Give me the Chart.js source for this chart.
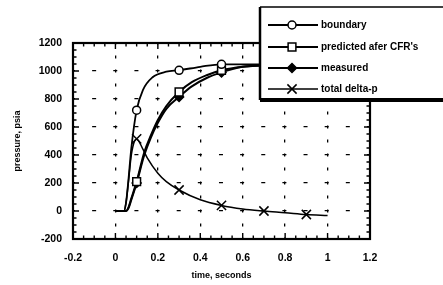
<!DOCTYPE html>
<html>
<head>
<meta charset="UTF-8">
<title>Pressure vs time</title>
<script src="https://cdn.jsdelivr.net/npm/chart.js@4.4.0/dist/chart.umd.min.js"></script>
<style>
  body { margin: 0; background: #fff; }
  canvas { display: block; }
</style>
</head>
<body>
<canvas id="chart" width="443" height="285"></canvas>
<script>
// axis ticks
var xTicks = [-0.2, 0, 0.2, 0.4, 0.6, 0.8, 1, 1.2];
var xTickLabels = ['-0.2', '0', '0.2', '0.4', '0.6', '0.8', '1', '1.2'];
var yTicks = [-200, 0, 200, 400, 600, 800, 1000, 1200];
var yTickLabels = ['-200', '0', '200', '400', '600', '800', '1000', '1200'];

// series
var boundaryTime = [0, 0.04, 0.05, 0.06, 0.075, 0.1, 0.13, 0.175, 0.24, 0.3, 0.4, 0.5, 0.6, 0.8, 1.0];
var boundaryP    = [0, 0, 60, 200, 450, 720, 865, 955, 995, 1005, 1030, 1048, 1048, 1048, 1048];
var boundaryMarks = [0.1, 0.3, 0.5];

var predictedTime = [0, 0.05, 0.06, 0.075, 0.1, 0.136, 0.167, 0.2, 0.24, 0.3, 0.36, 0.43, 0.5, 0.6, 0.7, 1.0];
var predictedP    = [0, 0, 20, 90, 210, 420, 540, 650, 750, 850, 920, 970, 1005, 1030, 1040, 1045];
var predictedMarks = [0.1, 0.3, 0.5];

var measuredTime = [0, 0.05, 0.06, 0.075, 0.1, 0.136, 0.167, 0.2, 0.24, 0.3, 0.36, 0.43, 0.5, 0.6, 0.7, 1.0];
var measuredP    = [0, 0, 15, 80, 200, 400, 525, 630, 730, 815, 890, 950, 990, 1030, 1040, 1045];
var measuredMarks = [0.1, 0.3, 0.5];

var deltaTime = [0, 0.04, 0.05, 0.06, 0.075, 0.09, 0.1, 0.13, 0.15, 0.2, 0.24, 0.3, 0.4, 0.5, 0.6, 0.7, 0.8, 0.9, 1.0];
var deltaP    = [0, 0, 60, 190, 400, 500, 515, 440, 380, 270, 210, 150, 80, 40, 15, 0, -12, -25, -33];
var deltaMarks = [0.1, 0.3, 0.5, 0.7, 0.9];

var seriesNames = ['boundary', "predicted afer CFR's", 'measured', 'total delta-p'];

function pts(t, p) {
  return t.map(function(x, i) { return {x: x, y: p[i]}; });
}
function markRadius(marks, r) {
  return function(ctx) {
    if (!ctx.raw) return 0;
    return marks.indexOf(ctx.raw.x) >= 0 ? r : 0;
  };
}

var styles = [
  {pointStyle: 'circle', radius: 4, fill: '#fff', width: 1.8},
  {pointStyle: 'rect', radius: 5.5, fill: '#fff', width: 2},
  {pointStyle: 'rectRot', radius: 4.5, fill: '#000', width: 2},
  {pointStyle: 'crossRot', radius: 6.5, fill: '#000', width: 1.5}
];
var seriesData = [pts(boundaryTime, boundaryP), pts(predictedTime, predictedP),
                  pts(measuredTime, measuredP), pts(deltaTime, deltaP)];
var seriesMarks = [boundaryMarks, predictedMarks, measuredMarks, deltaMarks];

var datasets = seriesNames.map(function(name, i) {
  var s = styles[i];
  return {
    label: name,
    data: seriesData[i],
    showLine: true,
    cubicInterpolationMode: 'monotone',
    borderColor: '#000',
    borderWidth: s.width,
    pointStyle: s.pointStyle,
    pointBackgroundColor: s.fill,
    pointBorderColor: '#000',
    pointBorderWidth: 1.5,
    pointRadius: markRadius(seriesMarks[i], s.radius)
  };
});

function drawMarker(ctx, style, r, x, y, fill) {
  ctx.beginPath();
  if (style === 'circle') {
    ctx.arc(x, y, r, 0, Math.PI * 2);
  } else if (style === 'rect') {
    var h = r * Math.SQRT1_2;
    ctx.rect(x - h, y - h, 2 * h, 2 * h);
  } else if (style === 'rectRot') {
    ctx.moveTo(x - r, y); ctx.lineTo(x, y - r); ctx.lineTo(x + r, y); ctx.lineTo(x, y + r);
    ctx.closePath();
  } else {
    var d = r * Math.SQRT1_2;
    ctx.moveTo(x - d, y - d); ctx.lineTo(x + d, y + d);
    ctx.moveTo(x + d, y - d); ctx.lineTo(x - d, y + d);
    ctx.stroke();
    return;
  }
  ctx.fillStyle = fill;
  ctx.fill();
  ctx.stroke();
}

// box round the plot with inward ticks on all four sides
var framePlugin = {
  id: 'frame',
  afterDatasetsDraw: function(chart) {
    var ctx = chart.ctx, a = chart.chartArea;
    var xs = chart.scales.x, ys = chart.scales.y;
    ctx.save();
    ctx.strokeStyle = '#000';
    ctx.lineWidth = 1.4;
    ctx.beginPath();
    var i, px, len;
    for (i = 0; i <= 28; i++) {
      px = xs.getPixelForValue(-0.2 + i * 0.05);
      len = i % 4 === 0 ? 6 : 3.5;
      ctx.moveTo(px, a.bottom); ctx.lineTo(px, a.bottom - len);
      ctx.moveTo(px, a.top); ctx.lineTo(px, a.top + len);
    }
    for (i = 0; i <= 28; i++) {
      px = ys.getPixelForValue(-200 + i * 50);
      len = i % 4 === 0 ? 6 : 3.5;
      ctx.moveTo(a.left, px); ctx.lineTo(a.left + len, px);
      ctx.moveTo(a.right, px); ctx.lineTo(a.right - len, px);
    }
    ctx.stroke();
    ctx.lineWidth = 2.2;
    ctx.strokeRect(a.left, a.top, a.right - a.left, a.bottom - a.top);
    ctx.restore();
  }
};

// legend box sitting over the top right corner
var legendPlugin = {
  id: 'boxLegend',
  afterDraw: function(chart) {
    var ctx = chart.ctx;
    var left = 260, top = 7, bottom = 100;
    ctx.save();
    ctx.fillStyle = '#fff';
    ctx.fillRect(left, top, 443 - left, bottom - top);
    ctx.strokeStyle = '#000';
    ctx.lineWidth = 1.5;
    ctx.beginPath(); ctx.moveTo(left, top); ctx.lineTo(443, top); ctx.stroke();
    ctx.lineWidth = 2.5;
    ctx.beginPath(); ctx.moveTo(left, top); ctx.lineTo(left, bottom); ctx.stroke();
    ctx.lineWidth = 4;
    ctx.beginPath(); ctx.moveTo(left, bottom); ctx.lineTo(443, bottom); ctx.stroke();

    var rows = [25, 47, 68, 89];
    ctx.font = 'bold 10px "Liberation Sans", Arial, sans-serif';
    ctx.textBaseline = 'middle';
    ctx.textAlign = 'left';
    seriesNames.forEach(function(name, i) {
      var s = styles[i], y = rows[i];
      ctx.strokeStyle = '#000';
      ctx.lineWidth = s.width;
      ctx.beginPath(); ctx.moveTo(268, y); ctx.lineTo(318, y); ctx.stroke();
      ctx.lineWidth = 1.5;
      drawMarker(ctx, s.pointStyle, s.radius, 292, y, s.fill);
      ctx.fillStyle = '#000';
      ctx.fillText(name, 321, y);
    });
    ctx.restore();
  }
};

var tickFont = {family: '"Liberation Sans", Arial, sans-serif', size: 10.5, weight: 'bold'};
var titleFont = {family: '"Liberation Sans", Arial, sans-serif', size: 9, weight: 'bold'};

new Chart(document.getElementById('chart'), {
  type: 'scatter',
  data: {datasets: datasets},
  options: {
    responsive: false,
    animation: false,
    events: [],
    layout: {padding: {left: 0, top: 43, right: 73, bottom: 0}},
    plugins: {legend: {display: false}, tooltip: {enabled: false}},
    scales: {
      x: {
        type: 'linear',
        min: -0.2, max: 1.2,
        afterBuildTicks: function(scale) { scale.ticks = xTicks.map(function(v) { return {value: v}; }); },
        afterFit: function(scale) { scale.height = 46; },
        ticks: {
          color: '#000', font: tickFont, padding: 13, maxRotation: 0,
          callback: function(v, i) { return xTickLabels[i]; }
        },
        grid: {color: '#000', lineWidth: 1.3, drawTicks: false},
        border: {display: false, dash: [3, 11], dashOffset: 1.5},
        title: {display: true, text: 'time, seconds', color: '#000', font: titleFont, padding: {top: 0, bottom: 4}}
      },
      y: {
        type: 'linear',
        min: -200, max: 1200,
        afterBuildTicks: function(scale) { scale.ticks = yTicks.map(function(v) { return {value: v}; }); },
        afterFit: function(scale) { scale.width = 73; },
        ticks: {
          color: '#000', font: tickFont, padding: 11,
          callback: function(v, i) { return yTickLabels[i]; }
        },
        grid: {color: '#000', lineWidth: 1.3, drawTicks: false},
        border: {display: false, dash: [4, 17.14], dashOffset: 2},
        title: {display: true, text: 'pressure, psia', color: '#000', font: titleFont, padding: {top: 12, bottom: 0}}
      }
    }
  },
  plugins: [framePlugin, legendPlugin]
});
</script>
</body>
</html>
